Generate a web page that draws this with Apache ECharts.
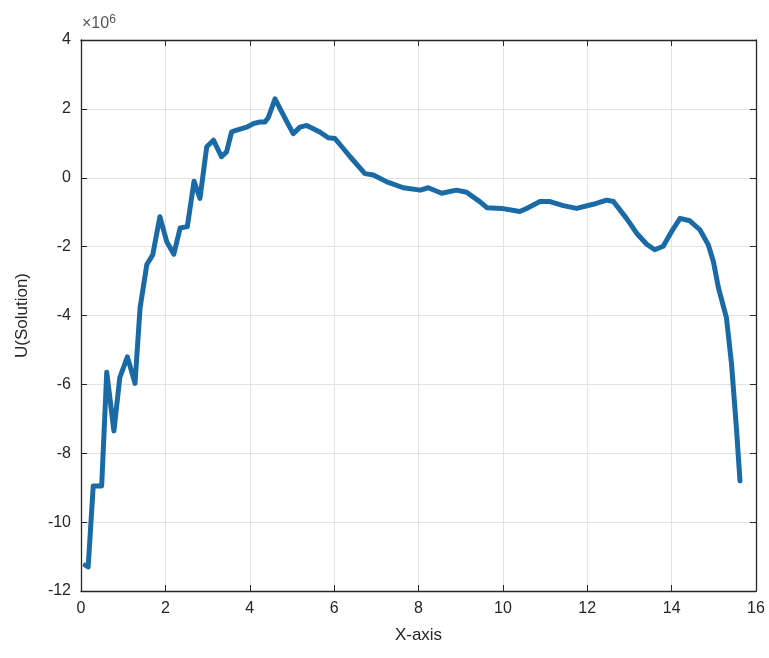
<!DOCTYPE html>
<html>
<head>
<meta charset="utf-8">
<script src="https://cdn.jsdelivr.net/npm/echarts@6/dist/echarts.min.js"></script>
<style>html,body{margin:0;padding:0;background:#fff;}#c{width:769px;height:658px;}</style>
</head>
<body>
<div id="c"></div>
<script>
// x positions
const xVals = [0.1,0.17,0.29,0.49,0.61,0.78,0.92,1.10,1.28,1.40,1.56,1.70,1.87,2.03,2.20,2.35,2.52,2.68,2.82,2.98,3.14,3.33,3.45,3.57,3.69,3.93,4.08,4.24,4.36,4.44,4.60,4.80,5.03,5.19,5.35,5.66,5.86,6.02,6.38,6.73,6.93,7.25,7.64,8.04,8.23,8.55,8.90,9.14,9.46,9.62,9.97,10.4,10.55,10.88,11.12,11.43,11.75,12.14,12.46,12.62,12.93,13.17,13.41,13.6,13.8,14.0,14.2,14.43,14.67,14.87,14.99,15.11,15.3,15.42,15.54,15.62];
// U values in units of 1e6
const uVals = [-11.25,-11.3,-8.95,-8.95,-5.65,-7.35,-5.8,-5.2,-5.97,-3.78,-2.52,-2.24,-1.13,-1.85,-2.22,-1.46,-1.42,-0.1,-0.6,0.9,1.09,0.61,0.75,1.33,1.38,1.47,1.57,1.62,1.62,1.75,2.29,1.81,1.28,1.47,1.52,1.33,1.16,1.14,0.61,0.12,0.08,-0.12,-0.29,-0.36,-0.29,-0.45,-0.36,-0.42,-0.7,-0.87,-0.89,-0.98,-0.9,-0.69,-0.69,-0.81,-0.89,-0.77,-0.65,-0.69,-1.18,-1.61,-1.93,-2.09,-1.99,-1.56,-1.18,-1.25,-1.51,-1.95,-2.43,-3.2,-4.07,-5.41,-7.34,-8.8];
const xTicks = [0,2,4,6,8,10,12,14,16];
const yTicks = [-12,-10,-8,-6,-4,-2,0,2,4];

const chart = echarts.init(document.getElementById('c'), null, {renderer:'canvas'});
const font = '"Liberation Sans", Arial, sans-serif';
const axisCol = '#262626';
const gridCol = '#e3e3e3';
const baseX = {
  type:'value', min:xTicks[0], max:xTicks[xTicks.length-1], interval:2,
  axisLine:{show:true, onZero:false, lineStyle:{color:axisCol, width:1.3}},
  axisTick:{show:true, inside:true, length:6, lineStyle:{color:axisCol}},
};
const baseY = {
  type:'value', min:yTicks[0], max:yTicks[yTicks.length-1], interval:2,
  axisLine:{show:true, onZero:false, lineStyle:{color:axisCol, width:1.3}},
  axisTick:{show:true, inside:true, length:6, lineStyle:{color:axisCol}},
};
chart.setOption({
  animation:false,
  backgroundColor:'#fff',
  grid:{left:81, right:13, top:40, bottom:67, containLabel:false},
  xAxis:[
    Object.assign({}, baseX, {
      position:'bottom',
      name:'X-axis', nameLocation:'middle', nameGap:36,
      nameTextStyle:{fontFamily:font, fontSize:17, color:axisCol},
      axisLabel:{show:true, fontFamily:font, fontSize:16, color:axisCol, margin:10},
      splitLine:{show:true, lineStyle:{color:gridCol, width:1}}
    }),
    Object.assign({}, baseX, {
      position:'top', axisLabel:{show:false}, splitLine:{show:false}
    })
  ],
  yAxis:[
    Object.assign({}, baseY, {
      position:'left',
      name:'U(Solution)', nameLocation:'middle', nameGap:50, nameRotate:90,
      nameTextStyle:{fontFamily:font, fontSize:17, color:axisCol},
      axisLabel:{show:true, fontFamily:font, fontSize:16, color:axisCol, margin:10},
      splitLine:{show:true, lineStyle:{color:gridCol, width:1}}
    }),
    Object.assign({}, baseY, {
      position:'right', axisLabel:{show:false}, splitLine:{show:false}
    })
  ],
  graphic:[{
    type:'text', left:82, top:14,
    style:{
      text:'{a|×10}{b|6}',
      rich:{
        a:{fontFamily:font, fontSize:16, fill:'#555'},
        b:{fontFamily:font, fontSize:12, fill:'#555', verticalAlign:'top', padding:[0,0,8,0]}
      }
    }
  }],
  series:[{
    type:'line',
    xAxisIndex:0, yAxisIndex:0,
    data:xVals.map((x,i)=>[x,uVals[i]]),
    showSymbol:false, smooth:false,
    lineStyle:{color:'#1a6aa6', width:5, join:'round', cap:'round'},
    z:5
  }]
});
</script>
</body>
</html>
